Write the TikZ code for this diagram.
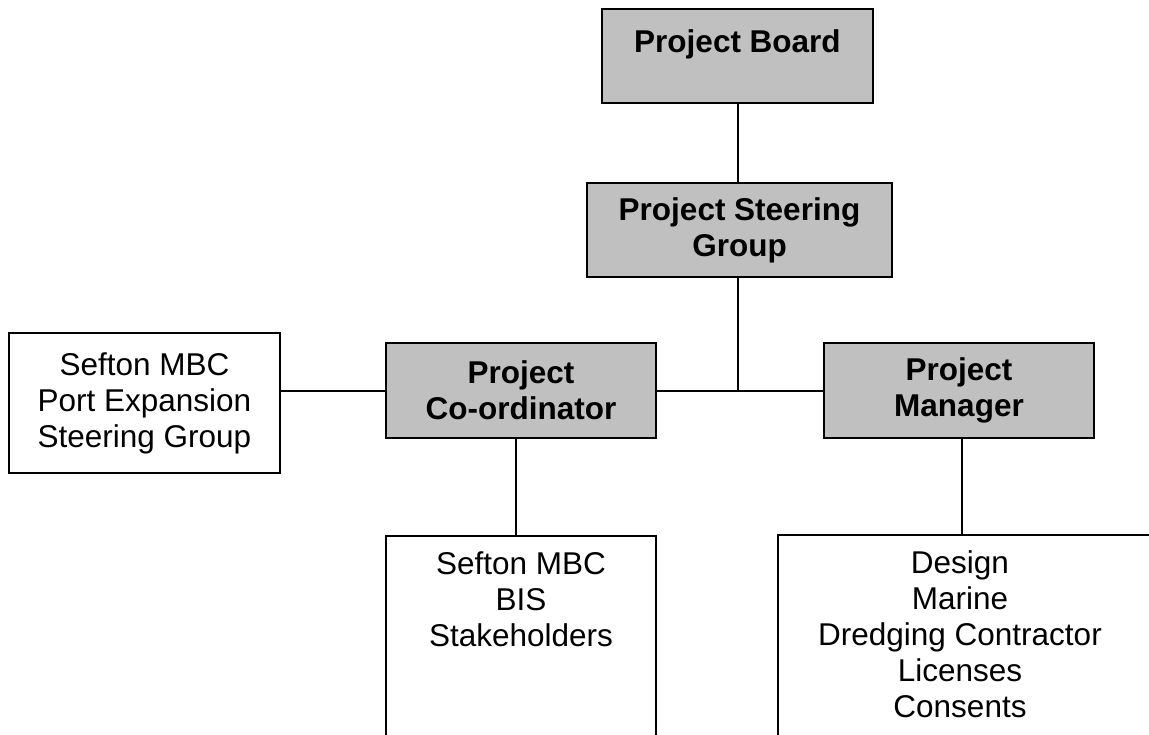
\documentclass[tikz,border=0pt]{standalone}
\usepackage{fontspec}
\setmainfont{Liberation Sans}
\definecolor{boxgray}{HTML}{C0C0C0}
\begin{document}
\begin{tikzpicture}[x=1pt,y=-1pt,
  base/.style={draw=black, line width=2pt, rectangle, inner sep=0pt, align=center,
    font=\fontsize{31.5}{36}\selectfont},
  graybox/.style={base, fill=boxgray, font=\fontsize{31.5}{36}\selectfont\bfseries},
  whitebox/.style={base, fill=white},
  txt/.style={inner sep=0pt, align=center, font=\fontsize{31.5}{36}\selectfont, anchor=north},
  conn/.style={draw=black, line width=2pt}]
\useasboundingbox (0,0) rectangle (1149,734);
\clip (0,0) rectangle (1149,734);
\fill[white] (0,0) rectangle (1149,734);

% top boxes
\node[graybox, minimum width=271pt, text height=43pt, text depth=51pt] (board) at (737.5,56) {Project Board};
\node[graybox, minimum width=305pt, minimum height=94pt] (steer) at (739.5,230) {Project Steering\\Group};

% middle row
\node[graybox, minimum width=270pt, minimum height=95pt] (coord) at (521,390.5) {Project\\Co-ordinator};
\node[graybox, minimum width=270pt, minimum height=95pt] (manager) at (959,390.5) {Project\\Manager};
\node[whitebox, minimum width=271pt, minimum height=140pt] (psg) at (144.5,403) {Sefton MBC\\Port Expansion\\Steering Group};

% bottom boxes (run off the page)
\node[whitebox, minimum width=270pt, minimum height=300pt, anchor=north] (stake) at (521,535) {};
\node[txt] (staketext) at (521,551) {Sefton MBC\\BIS\\Stakeholders};
\node[whitebox, minimum width=400pt, minimum height=300pt, anchor=north west] (contract) at (777,534) {};
\node[txt] (contracttext) at (960,550) {Design\\Marine\\Dredging Contractor\\Licenses\\Consents};

% connectors
\coordinate (junc) at (board.south |- coord.east);
\draw[conn] (board.south) -- (board.south |- steer.north);
\draw[conn] (board.south |- steer.south) -- (junc);
\draw[conn] (coord.east) -- (manager.west);
\draw[conn] (psg.east |- coord.west) -- (coord.west);
\draw[conn] ([xshift=-5pt]coord.south) -- ([xshift=-5pt]coord.south |- stake.north);
\draw[conn] ([xshift=3pt]manager.south) -- ([xshift=3pt]manager.south |- contract.north);
\end{tikzpicture}
\end{document}
